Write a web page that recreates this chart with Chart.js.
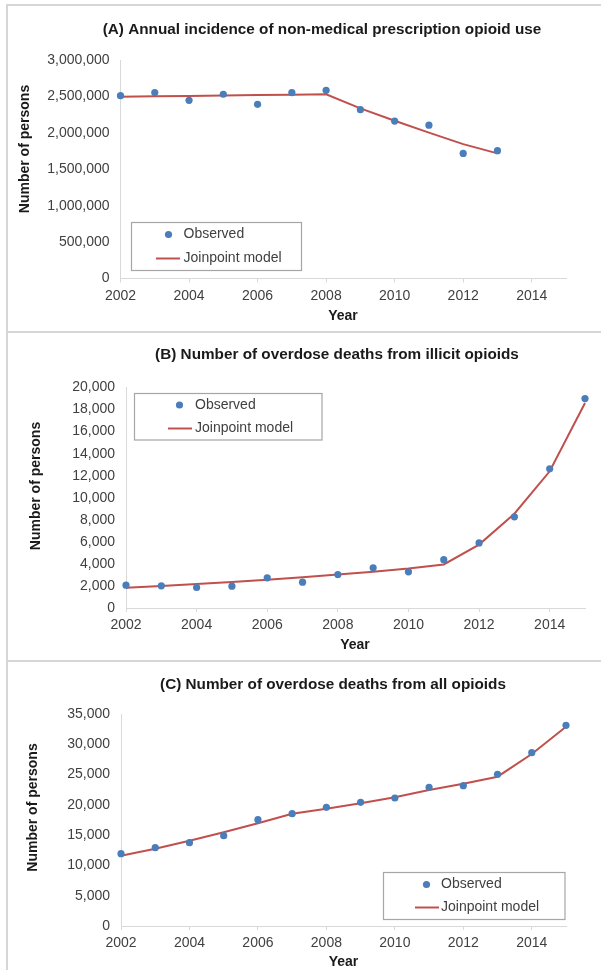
<!DOCTYPE html>
<html>
<head>
<meta charset="utf-8">
<script src="https://cdn.jsdelivr.net/npm/chart.js@4/dist/chart.umd.min.js"></script>
<style>
  html, body { margin: 0; padding: 0; background: #fff; }
  body { width: 612px; height: 970px; position: relative; overflow: hidden; font-family: "Liberation Sans", Arial, sans-serif; }
  .panel { position: absolute; left: 0; width: 612px; }
  .rule { position: absolute; background: #d6d6d6; z-index: 2; }
</style>
</head>
<body>
<div class="panel" style="top:0;height:330px"><canvas id="panelA"></canvas></div>
<div class="panel" style="top:330px;height:330px"><canvas id="panelB"></canvas></div>
<div class="panel" style="top:660px;height:310px"><canvas id="panelC"></canvas></div>

<!-- frame lines around the three panels -->
<div class="rule" style="left:6px;top:4px;width:595px;height:1.5px"></div>
<div class="rule" style="left:6px;top:4px;width:1.5px;height:966px"></div>
<div class="rule" style="left:6px;top:330.5px;width:595px;height:2px"></div>
<div class="rule" style="left:6px;top:660px;width:595px;height:1.5px"></div>

<script>
// ---- data ----
const yearsA = [2002, 2003, 2004, 2005, 2006, 2007, 2008, 2009, 2010, 2011, 2012, 2013];
const yearsBC = [2002, 2003, 2004, 2005, 2006, 2007, 2008, 2009, 2010, 2011, 2012, 2013, 2014, 2015];

// (A) annual incidence of non-medical prescription opioid use
const observedA = [2510000, 2553000, 2447000, 2530000, 2392000, 2552000, 2584000, 2318000, 2162000, 2105000, 1717000, 1755000];
const modelA    = [2496000, 2501000, 2507000, 2512000, 2518000, 2524000, 2529000, 2335000, 2166000, 2003000, 1845000, 1718000];

// (B) overdose deaths from illicit opioids
const observedB = [2070, 2010, 1860, 1980, 2740, 2340, 3040, 3650, 3280, 4380, 5900, 8270, 12620, 19000];
const modelB    = [1830, 1990, 2170, 2360, 2570, 2790, 3030, 3290, 3580, 3950, 5750, 8550, 12400, 18600];

// (C) overdose deaths from all opioids
const observedC = [11940, 12930, 13760, 14910, 17550, 18540, 19590, 20420, 21130, 22890, 23170, 25050, 28620, 33130];
const modelC    = [11610, 12760, 14080, 15470, 16950, 18540, 19370, 20250, 21240, 22450, 23490, 24650, 28400, 32900];

// axis tick values
const xTickYears = [2002, 2004, 2006, 2008, 2010, 2012, 2014];
const yTicksA = [0, 500000, 1000000, 1500000, 2000000, 2500000, 3000000];
const yTicksB = [0, 2000, 4000, 6000, 8000, 10000, 12000, 14000, 16000, 18000, 20000];
const yTicksC = [0, 5000, 10000, 15000, 20000, 25000, 30000, 35000];

const titles = {
  A: '(A) Annual incidence of non-medical prescription opioid use',
  B: '(B) Number of overdose deaths from illicit opioids',
  C: '(C) Number of overdose deaths from all opioids'
};
const seriesNames = ['Observed', 'Joinpoint model'];
const yAxisTitle = 'Number of persons';
const xAxisTitle = 'Year';

// ---- styling ----
const FONT = '"Liberation Sans", Arial, sans-serif';
const BLUE = '#4A7EBB';
const RED = '#C0504D';
const AXIS = '#d9d9d9';
const TICK_TEXT = '#404040';
const TITLE_TEXT = '#1a1a1a';

// Draws the panel title, the axis titles and the boxed legend.
const panelText = {
  id: 'panelText',
  afterDraw(chart, args, opts) {
    const ctx = chart.ctx;
    ctx.save();
    ctx.fillStyle = TITLE_TEXT;
    ctx.textAlign = 'center';
    ctx.textBaseline = 'middle';
    ctx.font = 'bold 15.3px ' + FONT;
    ctx.fillText(opts.title, opts.titleX, opts.titleY);

    ctx.font = 'bold 14px ' + FONT;
    ctx.fillText(xAxisTitle, opts.xTitleX, opts.xTitleY);
    ctx.save();
    ctx.translate(opts.yTitleX, opts.yTitleY);
    ctx.rotate(-Math.PI / 2);
    ctx.fillText(yAxisTitle, 0, 0);
    ctx.restore();

    // legend
    const L = opts.legend;
    ctx.fillStyle = '#fff';
    ctx.fillRect(L.x, L.y, L.w, L.h);
    ctx.strokeStyle = '#a6a6a6';
    ctx.lineWidth = 1.2;
    ctx.strokeRect(L.x, L.y, L.w, L.h);
    const [obs, mdl] = chart.data.datasets;
    ctx.fillStyle = obs.pointBackgroundColor;
    ctx.beginPath();
    ctx.arc(L.markerX, L.row1, 3.6, 0, Math.PI * 2);
    ctx.fill();
    ctx.strokeStyle = mdl.borderColor;
    ctx.lineWidth = 2;
    ctx.beginPath();
    ctx.moveTo(L.lineX0, L.row2);
    ctx.lineTo(L.lineX1, L.row2);
    ctx.stroke();
    ctx.fillStyle = TICK_TEXT;
    ctx.textAlign = 'left';
    ctx.font = '14px ' + FONT;
    ctx.fillText(obs.label, L.textX, L.row1);
    ctx.fillText(mdl.label, L.textX, L.row2);
    ctx.restore();
  }
};

function makePanel(id, years, observed, model, yMax, yTicks, area, text) {
  const H = document.getElementById(id).parentNode.clientHeight;
  const pts = (ys) => years.map((x, i) => ({ x: x, y: ys[i] }));
  return new Chart(document.getElementById(id), {
    type: 'line',
    data: {
      datasets: [
        {
          label: seriesNames[0], data: pts(observed), showLine: false, clip: false,
          pointRadius: 3.6, pointBorderWidth: 0,
          pointBackgroundColor: BLUE, pointBorderColor: BLUE,
          borderColor: BLUE, backgroundColor: BLUE, order: 0
        },
        {
          label: seriesNames[1], data: pts(model), clip: false,
          borderColor: RED, backgroundColor: RED, borderWidth: 2,
          pointRadius: 0, tension: 0, fill: false, order: 1
        }
      ]
    },
    options: {
      responsive: true, maintainAspectRatio: false, animation: false, events: [],
      layout: { padding: { left: 0, top: area.top, right: 612 - area.right, bottom: 0 } },
      plugins: { legend: { display: false }, tooltip: { enabled: false }, panelText: text },
      scales: {
        x: {
          type: 'linear', min: 2002, max: 2015,
          afterBuildTicks: (s) => { s.ticks = xTickYears.map(v => ({ value: v })); },
          afterFit: (s) => { s.height = H - area.bottom; },
          grid: { display: true, drawOnChartArea: false, drawTicks: true, tickLength: 4, color: AXIS, lineWidth: 1 },
          border: { display: true, color: AXIS, width: 1 },
          ticks: { font: { family: FONT, size: 14 }, color: TICK_TEXT, padding: 5, maxRotation: 0, autoSkip: false, callback: (v) => String(v) }
        },
        y: {
          type: 'linear', min: 0, max: yMax,
          afterBuildTicks: (s) => { s.ticks = yTicks.map(v => ({ value: v })); },
          afterFit: (s) => { s.width = area.left; },
          grid: { display: true, drawOnChartArea: false, drawTicks: false },
          border: { display: true, color: AXIS, width: 1 },
          ticks: { font: { family: FONT, size: 14 }, color: TICK_TEXT, padding: 11, autoSkip: false, callback: (v) => v.toLocaleString('en-US') }
        }
      }
    },
    plugins: [panelText]
  });
}

makePanel('panelA', yearsA, observedA, modelA, 3000000, yTicksA,
  { left: 120.5, right: 566, top: 60, bottom: 278.5 },
  { title: titles.A, titleX: 322, titleY: 30, xTitleX: 343, xTitleY: 316, yTitleX: 25, yTitleY: 149,
    legend: { x: 131.5, y: 222.5, w: 170, h: 48, markerX: 168.5, textX: 183.5, lineX0: 156, lineX1: 180, row1: 234.5, row2: 258.5 } });

makePanel('panelB', yearsBC, observedB, modelB, 20000, yTicksB,
  { left: 126, right: 585, top: 57.5, bottom: 278 },
  { title: titles.B, titleX: 337, titleY: 25, xTitleX: 355, xTitleY: 315, yTitleX: 36, yTitleY: 156,
    legend: { x: 134.5, y: 63.5, w: 187.5, h: 46.5, markerX: 179.5, textX: 195, lineX0: 168, lineX1: 192, row1: 75, row2: 98.5 } });

makePanel('panelC', yearsBC, observedC, modelC, 35000, yTicksC,
  { left: 121, right: 566, top: 54, bottom: 266 },
  { title: titles.C, titleX: 333, titleY: 24.5, xTitleX: 343.5, xTitleY: 302, yTitleX: 33, yTitleY: 147.5,
    legend: { x: 383.5, y: 212.5, w: 181.5, h: 47, markerX: 426.5, textX: 441, lineX0: 415, lineX1: 439, row1: 224.5, row2: 247.5 } });
</script>
</body>
</html>
